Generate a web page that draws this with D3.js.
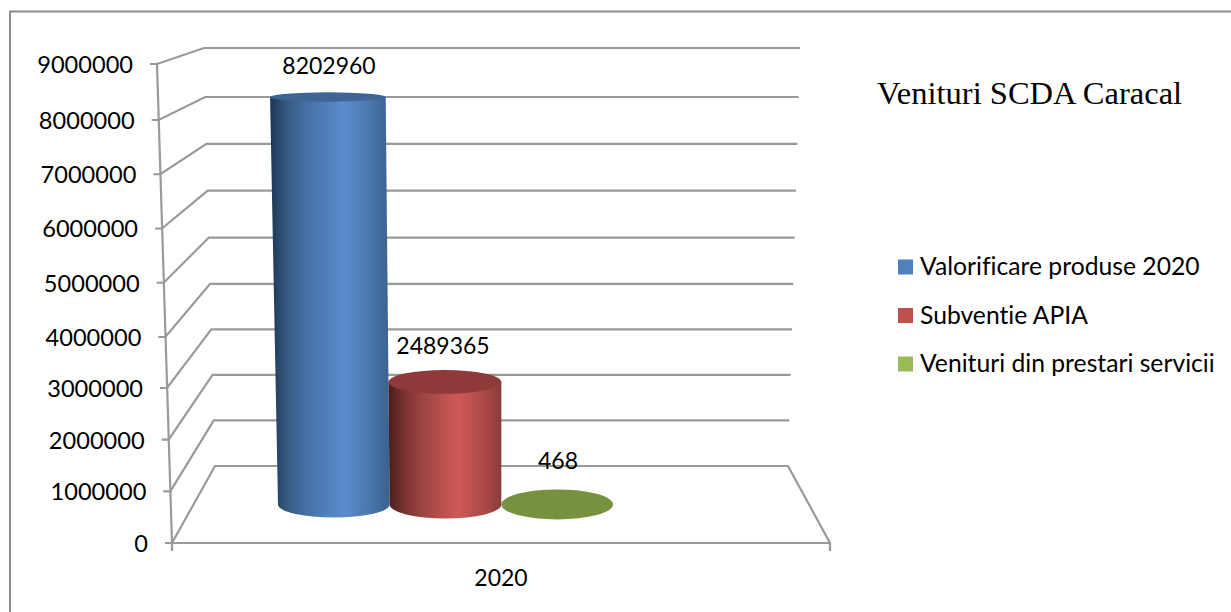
<!DOCTYPE html>
<html><head><meta charset="utf-8">
<script src="https://cdn.jsdelivr.net/npm/d3@7/dist/d3.min.js"></script>
<style>html,body{margin:0;padding:0;background:#fff}svg{display:block}text{font-variant-ligatures:none}</style>
</head><body><svg id="c" width="1231" height="612"></svg>
<script>
const categories = ["2020"];
const seriesNames = ["Valorificare produse 2020", "Subventie APIA", "Venituri din prestari servicii"];
const seriesValues = [8202960, 2489365, 468];
const colors = ["#4f81bd", "#c0504d", "#9bbb59"];
const topColors = ["#3f6594", "#8f3a3a", "#77923f"];
const yTicks = [0,1000000,2000000,3000000,4000000,5000000,6000000,7000000,8000000,9000000];
const title = "Venituri SCDA Caracal";
const F = "Lato, Carlito, Calibri, sans-serif", GRID = "#999999";
const svg = d3.select("#c");
const dom = [0,4500000,9000000];
const yFront = d3.scaleLinear().domain([0,3000000,4000000,8000000,9000000]).range([543,388,337,120,64]);
const yBack  = d3.scaleLinear().domain([0,4500000,8000000,9000000]).range([466,261,97,48]);
const yMid   = d3.scaleLinear().domain(dom).range([504.5,283,57]);
const xFrontL = d3.scaleLinear().domain([0,9000000]).range([172,157]);
const xBackL  = d3.scaleLinear().domain([0,9000000]).range([215,204]);
const xBackR  = d3.scaleLinear().domain([0,9000000]).range([788,800]);
const persp = d3.scaleLinear().domain([0,9000000]).range([1,1.039]);
const xBand = d3.scaleBand().domain(seriesNames).range([278,613]);
const VX = 501;
const px = (x,v)=> VX+(x-VX)*persp(v);

// frame
svg.append("path").attr("d","M10,612V11.5H1231").attr("fill","none").attr("stroke","#8a8a8a").attr("stroke-width",2);

const g = svg.append("g").attr("fill","none").attr("stroke",GRID).attr("stroke-width",2.2);
// walls
yTicks.forEach(v=>{
  g.append("path").attr("d",`M${xFrontL(v)-7},${yFront(v)}H${xFrontL(v)}L${xBackL(v)},${yBack(v)}H${xBackR(v)}`);
});
g.append("path").attr("d",`M${xFrontL(9000000)},${yFront(9000000)}L${xFrontL(0)},${yFront(0)}V551`);
g.append("path").attr("d",`M${xFrontL(0)},${yFront(0)}H830V551M830,${yFront(0)}L${xBackR(0)},${yBack(0)}`);

// y labels
svg.append("g").selectAll("text").data(yTicks).join("text")
  .attr("x",d=>xFrontL(d)-24).attr("y",d=>yFront(d)+3).attr("text-anchor","end").attr("dominant-baseline","middle")
  .attr("font-family",F).attr("font-size",23.6).attr("fill","#000").text(d=>d);

// gradients
const defs = svg.append("defs");
const stops = [
 [["0","#1c3554"],["0.14","#36597f"],["0.3","#4670a4"],["0.62","#5b8cd0"],["0.82","#4a78b0"],["1","#3b628f"]],
 [["0","#4a1c1b"],["0.14","#7a3331"],["0.3","#9c4442"],["0.62","#cf5a57"],["0.82","#b04c4a"],["1","#8a3b39"]]
];
stops.forEach((s,i)=>{
  const lg=defs.append("linearGradient").attr("id","g"+i);
  s.forEach(([o,c])=>lg.append("stop").attr("offset",o).attr("stop-color",c));
});

// cylinders
const baseRy=[13,14,15], W=xBand.bandwidth()/2;
const topRy=d3.scaleLinear().domain([0,9000000]).range([15,3.7]);
const bars=svg.append("g");
seriesValues.forEach((v,i)=>{
  const c=xBand(seriesNames[i])+W, y0=yMid(0), y1=yMid(v);
  const tc=px(c,v), rb=W, rt=W*persp(v), ryt=topRy(v);
  if(v>100000){
    bars.append("path").attr("fill",`url(#g${i})`)
     .attr("d",`M${tc-rt},${y1}L${c-rb},${y0}A${rb},${baseRy[i]} 0 0 0 ${c+rb},${y0}L${tc+rt},${y1}Z`);
  }
  bars.append("ellipse").attr("cx",tc).attr("cy",y1).attr("rx",rt).attr("ry",ryt).attr("fill",topColors[i]);
  svg.append("text").datum(v).attr("x",[329,443,558][i]).attr("y",y1-([29,34,41][i]))
    .attr("text-anchor","middle").attr("dominant-baseline","middle")
    .attr("font-family",F).attr("font-size",23).attr("fill","#000").text(v);
});

// category
svg.append("text").attr("x",501).attr("y",580).attr("text-anchor","middle").attr("dominant-baseline","middle")
 .attr("font-family",F).attr("font-size",23).attr("fill","#000").text(categories[0]);

// title
svg.append("text").attr("x",877).attr("y",104).attr("font-family","'Liberation Serif',serif").attr("font-size",32.5).attr("fill","#000").text(title);

// legend
const ly=d3.scalePoint().domain(seriesNames).range([267,364]);
seriesNames.forEach((n,i)=>{
  svg.append("rect").attr("x",898).attr("y",ly(n)-7.5).attr("width",15).attr("height",15).attr("fill",colors[i]);
  svg.append("text").attr("x",920).attr("y",ly(n)+8).attr("font-family",F).attr("font-size",24.7).attr("fill","#000").text(n);
});
</script></body></html>
